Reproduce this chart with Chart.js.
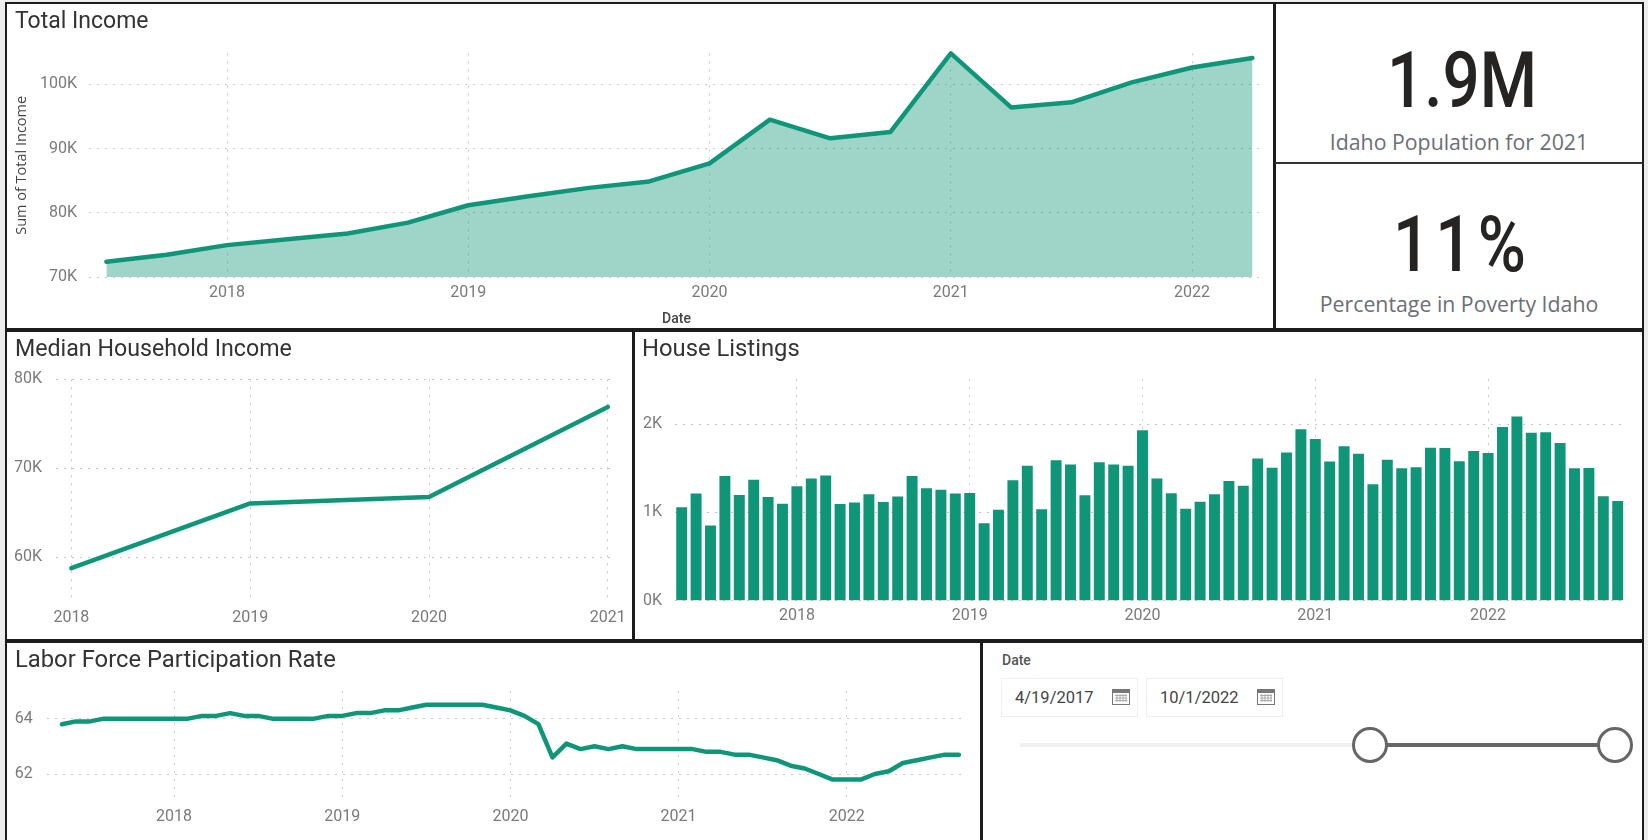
<!DOCTYPE html>
<html>
<head>
<meta charset="utf-8">
<title>Idaho dashboard</title>
<script src="https://cdn.jsdelivr.net/npm/chart.js@4"></script>
<style>
html, body { margin: 0; padding: 0; background: #ececec; width: 1648px; height: 840px; overflow: hidden; }
.panel { position: absolute; box-sizing: border-box; background: #fff; border: 2px solid #1c1c1c; }
canvas { position: absolute; }
.txt { position: absolute; white-space: nowrap; }
.kpi { font-family: Roboto, sans-serif; font-weight: 500; font-size: 78px; color: #252423; text-align: center; width: 368px; left: 1278px; line-height: 80px; transform: scaleX(0.84); }
.kpi-label { font-family: "Open Sans", sans-serif; font-size: 21.3px; color: #6b6f75; text-align: center; width: 368px; left: 1275px; line-height: 26px; }
.datebox { position: absolute; box-sizing: border-box; top: 678px; width: 137px; height: 39px; border: 1.5px solid #eeeeee; background: #fff; font-family: Roboto, sans-serif; font-size: 16.5px; color: #444; line-height: 38px; padding-left: 13px; }
.datebox svg { position: absolute; right: 7px; top: 9px; }
.slider-track { position: absolute; height: 4px; top: 743px; }
.handle { position: absolute; box-sizing: border-box; width: 36px; height: 36px; top: 727px; border: 3px solid #666; border-radius: 50%; background: #fff; }
</style>
</head>
<body>
<div class="panel" style="left:5px;top:2px;width:1270px;height:328px"></div>
<div class="panel" style="left:1274px;top:2px;width:370px;height:328px"></div>
<div style="position:absolute;left:1275px;top:162px;width:368px;height:2px;background:#333"></div>
<div class="panel" style="left:5px;top:330px;width:629px;height:311px"></div>
<div class="panel" style="left:633px;top:330px;width:1011px;height:311px"></div>
<div class="panel" style="left:5px;top:641px;width:977px;height:202px"></div>
<div class="panel" style="left:981px;top:641px;width:663px;height:202px"></div>

<canvas id="total-income" width="1266" height="323" style="left:8px;top:5px"></canvas>
<canvas id="median-income" width="624" height="306" style="left:8px;top:333px"></canvas>
<canvas id="house-listings" width="1007" height="306" style="left:635px;top:333px"></canvas>
<canvas id="labor-rate" width="972" height="196" style="left:8px;top:644px"></canvas>

<div class="txt kpi" style="top:41px">1.9M</div>
<div class="txt kpi-label" style="top:129px">Idaho Population for 2021</div>
<div class="txt kpi" style="top:205px;letter-spacing:6px">11%</div>
<div class="txt kpi-label" style="top:291px">Percentage in Poverty Idaho</div>

<div class="txt" style="left:1002px;top:652px;font:500 14px Roboto,sans-serif;color:#555">Date</div>
<div class="datebox" style="left:1001px">4/19/2017<svg width="18" height="17" viewBox="0 0 18 17"><rect x="0.5" y="1.5" width="17" height="15" fill="#fff" stroke="#777"/><rect x="0.5" y="1.5" width="17" height="3.5" fill="#777"/><path d="M3 7.5h12M3 10h12M3 12.5h12M5 6v8M8 6v8M11 6v8M14 6v8" stroke="#aaa" fill="none"/></svg></div>
<div class="datebox" style="left:1146px">10/1/2022<svg width="18" height="17" viewBox="0 0 18 17"><rect x="0.5" y="1.5" width="17" height="15" fill="#fff" stroke="#777"/><rect x="0.5" y="1.5" width="17" height="3.5" fill="#777"/><path d="M3 7.5h12M3 10h12M3 12.5h12M5 6v8M8 6v8M11 6v8M14 6v8" stroke="#aaa" fill="none"/></svg></div>
<div class="slider-track" style="left:1020px;width:352px;background:#f1f1f1"></div>
<div class="slider-track" style="left:1372px;width:243px;background:#666"></div>
<div class="handle" style="left:1352px"></div>
<div class="handle" style="left:1597px"></div>

<script>
// Trimestres del grafico de ingresos
var quarters = ['2017-07', '2017-10', '2018-01', '2018-04', '2018-07', '2018-10', '2019-01', '2019-04', '2019-07', '2019-10',
    '2020-01', '2020-04', '2020-07', '2020-10', '2021-01', '2021-04', '2021-07', '2021-10', '2022-01', '2022-04'];
var totalIncome = [72400, 73500, 75000, 75900, 76800, 78500, 81200, 82600, 83900, 84900,
    87700, 94500, 91600, 92600, 104800, 96400, 97200, 100300, 102600, 104100];

var medianYears = [2018, 2019, 2020, 2021];
var medianIncome = [58800, 66070, 66800, 76900];

var months = [
    '2017-05', '2017-06', '2017-07', '2017-08', '2017-09', '2017-10', '2017-11', '2017-12',
    '2018-01', '2018-02', '2018-03', '2018-04', '2018-05', '2018-06', '2018-07', '2018-08', '2018-09', '2018-10', '2018-11', '2018-12',
    '2019-01', '2019-02', '2019-03', '2019-04', '2019-05', '2019-06', '2019-07', '2019-08', '2019-09', '2019-10', '2019-11', '2019-12',
    '2020-01', '2020-02', '2020-03', '2020-04', '2020-05', '2020-06', '2020-07', '2020-08', '2020-09', '2020-10', '2020-11', '2020-12',
    '2021-01', '2021-02', '2021-03', '2021-04', '2021-05', '2021-06', '2021-07', '2021-08', '2021-09', '2021-10', '2021-11', '2021-12',
    '2022-01', '2022-02', '2022-03', '2022-04', '2022-05', '2022-06', '2022-07', '2022-08', '2022-09', '2022-10'
];
var houseListings = [1059, 1214, 851, 1414, 1198, 1372, 1176, 1100,
    1297, 1384, 1418, 1096, 1112, 1206, 1119, 1180, 1414, 1274, 1259, 1214,
    1221, 877, 1032, 1365, 1531, 1036, 1592, 1543, 1195, 1569, 1543, 1531,
    1932, 1384, 1217, 1043, 1123, 1206, 1357, 1304, 1611, 1508, 1679, 1943,
    1834, 1577, 1750, 1667, 1319, 1599, 1501, 1512, 1735, 1732, 1580, 1698,
    1675, 1970, 2087, 1905, 1909, 1788, 1501, 1505, 1183, 1130];
var laborRate = [63.8, 63.9, 63.9, 64.0, 64.0, 64.0, 64.0, 64.0,
    64.0, 64.0, 64.1, 64.1, 64.2, 64.1, 64.1, 64.0, 64.0, 64.0, 64.0, 64.1,
    64.1, 64.2, 64.2, 64.3, 64.3, 64.4, 64.5, 64.5, 64.5, 64.5, 64.5, 64.4,
    64.3, 64.1, 63.8, 62.6, 63.1, 62.9, 63.0, 62.9, 63.0, 62.9, 62.9, 62.9,
    62.9, 62.9, 62.8, 62.8, 62.7, 62.7, 62.6, 62.5, 62.3, 62.2, 62.0, 61.8,
    61.8, 61.8, 62.0, 62.1, 62.4, 62.5, 62.6, 62.7, 62.7];

// Marcas de los ejes
var yearTicks = [2018, 2019, 2020, 2021, 2022];
var totalTicks = [70000, 80000, 90000, 100000];
var medianTicks = [60000, 70000, 80000];
var houseTicks = [0, 1000, 2000];
var laborTicks = [62, 64];

var GREEN = '#0f9678';
var LABEL_GRAY = '#7a7a7a';
var GRID_GRAY = '#c8c8c8';
var GRID_DASH = [2, 6];
var LABEL_FONT = { family: 'Roboto', size: 16 };

// '2018-04' -> 2018.25, para las escalas lineales
function yearFraction(label) {
    var parts = label.split('-');
    return Number(parts[0]) + (Number(parts[1]) - 1) / 12;
}

function toPoints(xs, ys) {
    return ys.map(function (y, i) { return { x: xs[i], y: y }; });
}

function kLabel(value) {
    return (value / 1000) + 'K';
}

function plainLabel(value) {
    return String(value);
}

function fixedTicks(values) {
    return function (scale) {
        scale.ticks = values.map(function (v) { return { value: v }; });
    };
}

function titleOptions(text, size, bottom) {
    return {
        display: true,
        text: text,
        align: 'start',
        color: '#333333',
        font: { family: 'Roboto', size: size, weight: 'normal', lineHeight: 1.2 },
        padding: { top: 3, bottom: bottom }
    };
}

function gridOptions() {
    return { color: GRID_GRAY, lineWidth: 1, drawTicks: false };
}

function yAxis(min, max, values, fitWidth, padding, format) {
    return {
        min: min,
        max: max,
        afterBuildTicks: fixedTicks(values),
        afterFit: function (scale) { scale.width = fitWidth; },
        grid: gridOptions(),
        border: { display: false, dash: GRID_DASH },
        ticks: { padding: padding, color: LABEL_GRAY, font: LABEL_FONT, callback: format }
    };
}

function xAxis(min, max, values, fitHeight) {
    return {
        type: 'linear',
        min: min,
        max: max,
        afterBuildTicks: fixedTicks(values),
        afterFit: function (scale) { scale.height = fitHeight; },
        grid: gridOptions(),
        border: { display: false, dash: GRID_DASH },
        ticks: { padding: 6, maxRotation: 0, color: LABEL_GRAY, font: LABEL_FONT, callback: plainLabel }
    };
}

function lineDataset(label, points) {
    return {
        label: label,
        data: points,
        borderColor: GREEN,
        borderWidth: 4.5,
        borderCapStyle: 'round',
        borderJoinStyle: 'round',
        pointRadius: 0,
        tension: 0,
        clip: false
    };
}

function baseOptions(title, left, right, scales) {
    return {
        responsive: false,
        animation: false,
        layout: { padding: { left: left, right: right, top: 0, bottom: 0 } },
        plugins: { legend: { display: false }, tooltip: { enabled: false }, title: title },
        scales: scales
    };
}

// Total Income
var totalX = xAxis(2017.428, 2022.298, yearTicks, 50.7);
totalX.title = { display: true, text: 'Date', color: '#444444', padding: 0, font: { family: 'Roboto', size: 14, weight: '500', lineHeight: 1.2 } };
var totalY = yAxis(70000, 104800, totalTicks, 74, 12, kLabel);
totalY.title = { display: true, text: 'Sum of Total Income', color: '#444444', padding: 0, font: { family: 'Open Sans', size: 14.5, lineHeight: 1 } };
var totalDataset = lineDataset('Sum of Total Income', toPoints(quarters.map(yearFraction), totalIncome));
totalDataset.fill = 'start';
totalDataset.backgroundColor = 'rgba(15, 150, 120, 0.4)';
new Chart(document.getElementById('total-income').getContext('2d'), {
    type: 'line',
    data: { datasets: [totalDataset] },
    options: baseOptions(titleOptions('Total Income', 23, 17.8), 7, 10, { x: totalX, y: totalY })
});

// Median Household Income
new Chart(document.getElementById('median-income').getContext('2d'), {
    type: 'line',
    data: { datasets: [lineDataset('Median Household Income', toPoints(medianYears, medianIncome))] },
    options: baseOptions(titleOptions('Median Household Income', 23.2, 15.5), 7, 14, {
        x: xAxis(2017.914, 2021.045, medianYears, 37),
        y: yAxis(55000, 80000, medianTicks, 41, 14, kLabel)
    })
});

// House Listings
var houseX = {
    type: 'category',
    offset: true,
    afterFit: function (scale) { scale.height = 38.3; },
    afterBuildTicks: function (scale) {
        scale.ticks = scale.ticks.filter(function (tick) { return months[tick.value].slice(5) === '01'; });
    },
    grid: { color: GRID_GRAY, lineWidth: 1, drawTicks: false, offset: false },
    border: { display: false, dash: GRID_DASH },
    ticks: {
        autoSkip: false, padding: 6, maxRotation: 0, color: LABEL_GRAY, font: LABEL_FONT,
        callback: function (value) { return months[value].slice(0, 4); }
    }
};
new Chart(document.getElementById('house-listings').getContext('2d'), {
    type: 'bar',
    data: {
        labels: months,
        datasets: [{ label: 'House Listings', data: houseListings, backgroundColor: GREEN, barPercentage: 0.76, categoryPercentage: 1 }]
    },
    options: baseOptions(titleOptions('House Listings', 23.8, 14.7), 7, 17.1, {
        x: houseX,
        y: yAxis(0, 2510, houseTicks, 32.5, 12.5, kLabel)
    })
});

// Labor Force Participation Rate
new Chart(document.getElementById('labor-rate').getContext('2d'), {
    type: 'line',
    data: { datasets: [lineDataset('Labor Force Participation Rate', toPoints(months.map(yearFraction), laborRate))] },
    options: baseOptions(titleOptions('Labor Force Participation Rate', 23.8, 15.4), 7, 15, {
        x: xAxis(2017.243, 2022.703, yearTicks, 38.3),
        y: yAxis(61, 65, laborTicks, 31.7, 14, plainLabel)
    })
});
</script>
</body>
</html>
